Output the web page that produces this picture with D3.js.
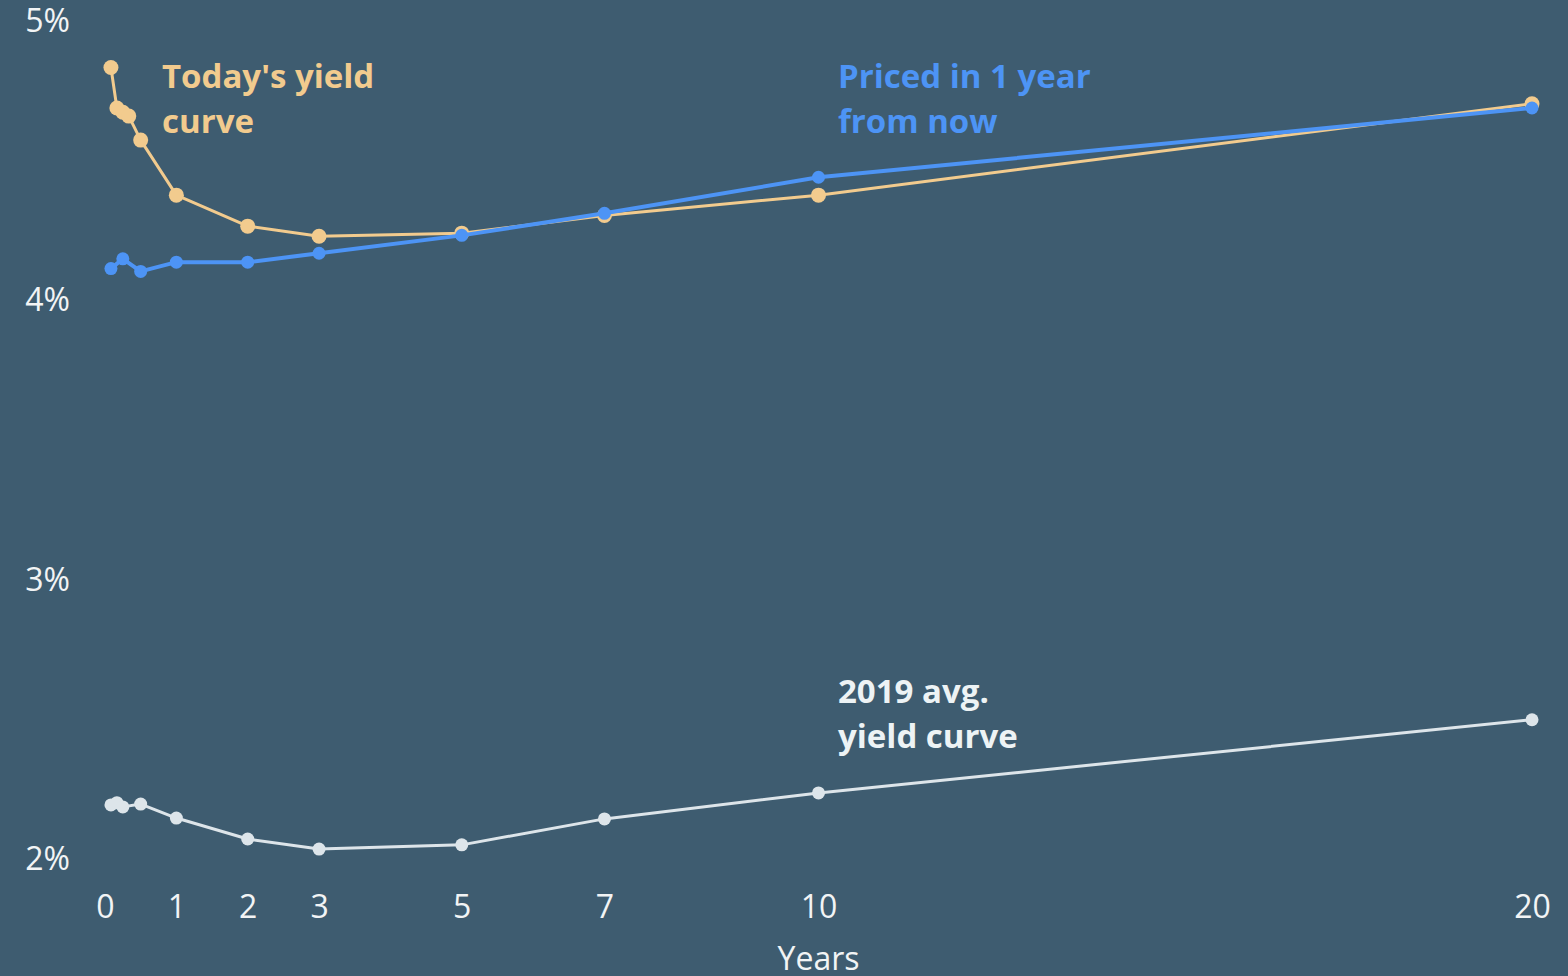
<!DOCTYPE html>
<html>
<head>
<meta charset="utf-8">
<script src="https://cdn.jsdelivr.net/npm/d3@7"></script>
<style>
  html, body { margin: 0; padding: 0; background: #3e5c70; }
  svg { display: block; }
  text { font-family: "Open Sans", "Noto Sans", sans-serif; }
</style>
</head>
<body>
<svg id="chart" width="1568" height="976"></svg>
<script>
// Maturities in years
const todayMaturities = [1/12, 2/12, 3/12, 4/12, 6/12, 1, 2, 3, 5, 7, 10, 20];
const todayYields     = [4.83, 4.685, 4.67, 4.656, 4.57, 4.373, 4.262, 4.226, 4.237, 4.30, 4.373, 4.70];

const forwardMaturities = [1/12, 3/12, 6/12, 1, 2, 3, 5, 7, 10, 20];
const forwardYields     = [4.11, 4.145, 4.10, 4.133, 4.133, 4.165, 4.229, 4.308, 4.437, 4.685];

const avg2019Maturities = [1/12, 2/12, 3/12, 6/12, 1, 2, 3, 5, 7, 10, 20];
const avg2019Yields     = [2.19, 2.198, 2.183, 2.193, 2.143, 2.068, 2.032, 2.047, 2.14, 2.233, 2.495];

const xTicks = [0, 1, 2, 3, 5, 7, 10, 20];
const yTicks = [2, 3, 4, 5];

const svg = d3.select("#chart");

const x = d3.scaleLinear().domain([0, 20]).range([105, 1532]);
const y = d3.scaleLinear().domain([2, 5]).range([858, 20]);

// Axes without domain lines or tick marks
const yAxis = d3.axisLeft(y).tickValues(yTicks).tickFormat(d => d + "%").tickSize(0).tickPadding(0);
const gy = svg.append("g").attr("transform", "translate(70,0)").call(yAxis);
gy.select(".domain").remove();
gy.selectAll("text")
  .attr("fill", "#f2f4f5")
  .attr("font-size", 32)
  .attr("font-family", "'Open Sans', 'Noto Sans', sans-serif")
  .attr("dy", "0.36em");

const xAxis = d3.axisBottom(x).tickValues(xTicks).tickFormat(d3.format("d")).tickSize(0).tickPadding(0);
const gx = svg.append("g").attr("transform", "translate(0,918)").call(xAxis);
gx.select(".domain").remove();
gx.selectAll("text")
  .attr("fill", "#f2f4f5")
  .attr("font-size", 32)
  .attr("font-family", "'Open Sans', 'Noto Sans', sans-serif")
  .attr("dy", "0");

svg.append("text")
  .attr("x", (x.range()[0] + x.range()[1]) / 2)
  .attr("y", 970)
  .attr("text-anchor", "middle")
  .attr("fill", "#f2f4f5")
  .attr("font-size", 32)
  .text("Years");

const line = d3.line().x(d => x(d[0])).y(d => y(d[1]));

function drawSeries(mats, vals, color, width, r) {
  const pts = mats.map((m, i) => [m, vals[i]]);
  svg.append("path")
    .datum(pts)
    .attr("d", line)
    .attr("fill", "none")
    .attr("stroke", color)
    .attr("stroke-width", width)
    .attr("stroke-linejoin", "round");
  svg.append("g").selectAll("circle")
    .data(pts)
    .join("circle")
    .attr("cx", d => x(d[0]))
    .attr("cy", d => y(d[1]))
    .attr("r", r)
    .attr("fill", color);
}

drawSeries(avg2019Maturities, avg2019Yields, "#dde5ea", 3, 6.5);
drawSeries(todayMaturities, todayYields, "#f2cb8e", 3, 7.5);
drawSeries(forwardMaturities, forwardYields, "#4d94f5", 4, 6.5);

function label(xp, yp, lines, color) {
  const t = svg.append("text")
    .attr("x", xp)
    .attr("y", yp)
    .attr("fill", color)
    .attr("font-size", 33)
    .attr("font-weight", 700);
  lines.forEach((s, i) => {
    t.append("tspan").attr("x", xp).attr("dy", i === 0 ? 0 : 45).text(s);
  });
}

label(162, 88, ["Today's yield", "curve"], "#f2cb8e");
label(838, 88, ["Priced in 1 year", "from now"], "#4d94f5");
label(838, 703, ["2019 avg.", "yield curve"], "#edf3f5");
</script>
</body>
</html>
